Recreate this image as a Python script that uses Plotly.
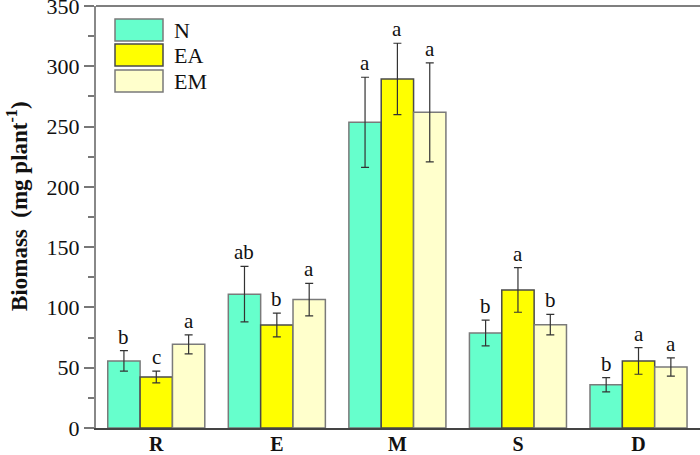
import plotly.graph_objects as go

categories = ["R", "E", "M", "S", "D"]
series = ["N", "EA", "EM"]
values = {
    "N":  [55.6, 111.0, 253.5, 78.8, 35.9],
    "EA": [42.3, 85.4, 289.5, 114.5, 55.6],
    "EM": [69.4, 106.5, 261.8, 85.7, 50.6],
}
errors = {
    "N":  [8.5, 23.0, 37.4, 10.7, 5.9],
    "EA": [4.8, 9.8, 29.6, 18.5, 11.0],
    "EM": [7.9, 13.5, 41.0, 8.5, 7.5],
}
letters = {
    "N":  ["b", "ab", "a", "b", "b"],
    "EA": ["c", "b", "a", "a", "a"],
    "EM": ["a", "a", "a", "b", "a"],
}
colors = {"N": "#66FFCC", "EA": "#FFFF00", "EM": "#FFFFCC"}
outline = {"N": "#7a7a7a", "EA": "#4a4a4a", "EM": "#7a7a7a"}
y_ticks = [0, 50, 100, 150, 200, 250, 300, 350]
y_title = "<b>Biomass  (mg plant<sup>-1</sup>)</b>"

FONT = "'Liberation Serif', 'Times New Roman', serif"
bargap = 0.195
bw = (1 - bargap) / len(series)

fig = go.Figure()
xs = list(range(len(categories)))
for i, s in enumerate(series):
    fig.add_trace(go.Bar(
        x=xs, y=values[s], name=s,
        marker=dict(color=colors[s], line=dict(color=outline[s], width=1.5)),
        error_y=dict(type="data", array=errors[s], color="#333333", thickness=1.2, width=4),
        showlegend=False,
    ))
    for j in xs:
        fig.add_annotation(
            x=j + (i - 1) * bw, y=values[s][j] + errors[s][j],
            text=letters[s][j], showarrow=False, yanchor="bottom", yshift=0,
            font=dict(family=FONT, size=21, color="#111"),
        )

# legend drawn manually (large swatches)
plot_top, plot_h, plot_l, plot_w = 6, 422, 96, 604
leg_tops = [19, 44, 70]
for i, s in enumerate(series):
    top = 1 - (leg_tops[i] - plot_top) / plot_h
    bot = 1 - (leg_tops[i] + 22 - plot_top) / plot_h
    fig.add_shape(type="rect", xref="paper", yref="paper",
                  x0=(115 - plot_l) / plot_w, x1=(163 - plot_l) / plot_w, y0=bot, y1=top,
                  fillcolor=colors[s], line=dict(color=outline[s], width=1.5))
    fig.add_annotation(xref="paper", yref="paper", x=(172 - plot_l) / plot_w, y=(top + bot) / 2,
                       text=s, showarrow=False, xanchor="left", yanchor="middle",
                       font=dict(family=FONT, size=22, color="#111"))

# y-axis title as rotated annotation
fig.add_annotation(xref="paper", yref="paper",
                   x=(17 - plot_l) / plot_w, y=1 - (206 - plot_top) / plot_h,
                   text=y_title, textangle=-90, showarrow=False,
                   xanchor="center", yanchor="middle",
                   font=dict(family=FONT, size=23, color="#111"))

fig.update_layout(
    width=700, height=455,
    margin=dict(l=96, r=0, t=6, b=27, autoexpand=False),
    paper_bgcolor="white", plot_bgcolor="white",
    barmode="group", bargap=bargap, bargroupgap=0,
    font=dict(family=FONT, color="#111"),
)
fig.update_xaxes(
    range=[-0.5, 4.51], tickmode="array", tickvals=xs,
    ticktext=["<b>%s</b>" % c for c in categories],
    tickfont=dict(family=FONT, size=20, color="#111"),
    ticks="", ticklabelstandoff=-3,
    showgrid=False, zeroline=False, automargin=False,
    showline=True, linecolor="#444", linewidth=2,
)
fig.update_yaxes(
    range=[0, 350], tickmode="array", tickvals=y_ticks,
    tickfont=dict(family=FONT, size=22, color="#111"),
    ticklabeloverflow="allow", automargin=False,
    ticks="outside", ticklen=10, tickcolor="#777", tickwidth=1.5,
    minor=dict(dtick=25, ticks="outside", ticklen=6, tickcolor="#777", tickwidth=1.5),
    showgrid=False, zeroline=False,
    showline=True, linecolor="#888", linewidth=2,
)
fig.add_shape(type="line", xref="paper", yref="paper", x0=0, x1=1, y0=1, y1=1,
              line=dict(color="#555", width=1.5))

fig.write_html("out.html")
